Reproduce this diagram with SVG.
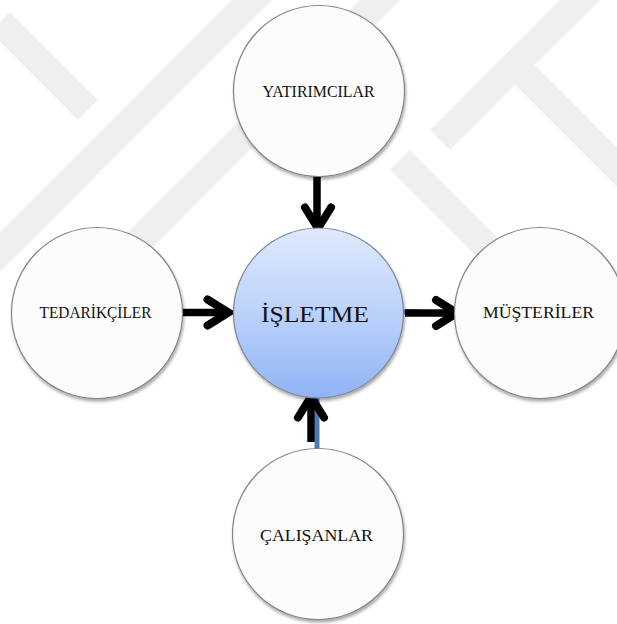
<svg xmlns="http://www.w3.org/2000/svg" width="617" height="624" viewBox="0 0 617 624">
  <defs>
    <linearGradient id="coreFill" x1="0" y1="0" x2="0" y2="1">
      <stop offset="0" stop-color="#dfe9fc"/>
      <stop offset="0.5" stop-color="#bcd2fa"/>
      <stop offset="1" stop-color="#8fb3f5"/>
    </linearGradient>
    <filter id="shadow" x="-20%" y="-20%" width="140%" height="140%">
      <feDropShadow dx="1" dy="2.5" stdDeviation="1.6" flood-color="#000" flood-opacity="0.35"/>
    </filter>
    <style>
      .band { fill: none; stroke: #efefef; stroke-width: 28; stroke-linecap: butt; }
      .node { fill: #fcfcfc; stroke: #858585; stroke-width: 1.2; filter: url(#shadow); }
      .core { fill: url(#coreFill); stroke: #7d8796; stroke-width: 1.2; filter: url(#shadow); }
      .label { font-family: "Liberation Serif", "Times New Roman", serif; font-size: 16.5px; fill: #111; text-anchor: middle; }
      .title { font-family: "Liberation Serif", "Times New Roman", serif; font-size: 24px; fill: #111; text-anchor: middle; }
      .shaft { stroke: #000; stroke-width: 7.5; fill: none; stroke-linecap: butt; }
      .head { stroke: #000; stroke-width: 8; fill: none; stroke-linecap: round; stroke-linejoin: miter; stroke-miterlimit: 10; }
      .link { stroke: #4a7ab5; stroke-width: 5; fill: none; }
    </style>
  </defs>

  <rect width="617" height="624" fill="#ffffff"/>

  <!-- faint background pattern -->
  <g id="background-pattern">
    <path class="band" d="M0,22 L88,110"/>
    <path class="band" d="M-10,262 L262,-10"/>
    <path class="band" d="M110,270 L390,-10"/>
    <path class="band" d="M440,140 L590,-10"/>
    <path class="band" d="M505,55 L630,180"/>
    <path class="band" d="M400,160 L520,280"/>
  </g>

  <!-- connectors -->
  <g id="connectors">
    <line class="link" x1="403" y1="312" x2="420" y2="312"/>
    <line class="link" x1="317" y1="396" x2="317" y2="449"/>

    <!-- YATIRIMCILAR -> İŞLETME -->
    <line class="shaft" x1="317" y1="176" x2="317" y2="229"/>
    <path class="head" d="M305,207.5 L318,228.5 L331,207.5"/>

    <!-- TEDARİKÇİLER -> İŞLETME -->
    <line class="shaft" x1="183" y1="312.5" x2="229" y2="312.5"/>
    <path class="head" d="M207.5,299.5 L228.5,312.5 L207.5,325.5"/>

    <!-- İŞLETME -> MÜŞTERİLER -->
    <line class="shaft" x1="405" y1="313" x2="457" y2="313"/>
    <path class="head" d="M436,300 L457,313 L436,326"/>

    <!-- ÇALIŞANLAR -> İŞLETME -->
    <line class="shaft" x1="311" y1="442" x2="311" y2="397"/>
    <path class="head" d="M298,417.5 L311,396.5 L324,417.5"/>
  </g>

  <g id="yatirimcilar">
    <circle class="node" cx="319" cy="91" r="85.5"/>
    <text class="label" x="318.5" y="96.5" textLength="112" lengthAdjust="spacingAndGlyphs">YATIRIMCILAR</text>
  </g>

  <g id="tedarikciler">
    <circle class="node" cx="97" cy="313" r="85.5"/>
    <text class="label" x="95.5" y="317.5" textLength="112" lengthAdjust="spacingAndGlyphs">TEDARİKÇİLER</text>
  </g>

  <g id="isletme">
    <circle class="core" cx="318.5" cy="313" r="85"/>
    <text class="title" x="315" y="321.5" textLength="108" lengthAdjust="spacingAndGlyphs">İŞLETME</text>
  </g>

  <g id="musteriler">
    <circle class="node" cx="540" cy="313" r="85.5"/>
    <text class="label" x="538.5" y="317.5" textLength="111" lengthAdjust="spacingAndGlyphs">MÜŞTERİLER</text>
  </g>

  <g id="calisanlar">
    <circle class="node" cx="318" cy="534" r="85.5"/>
    <text class="label" x="316.5" y="540.5" textLength="113" lengthAdjust="spacingAndGlyphs">ÇALIŞANLAR</text>
  </g>
</svg>
